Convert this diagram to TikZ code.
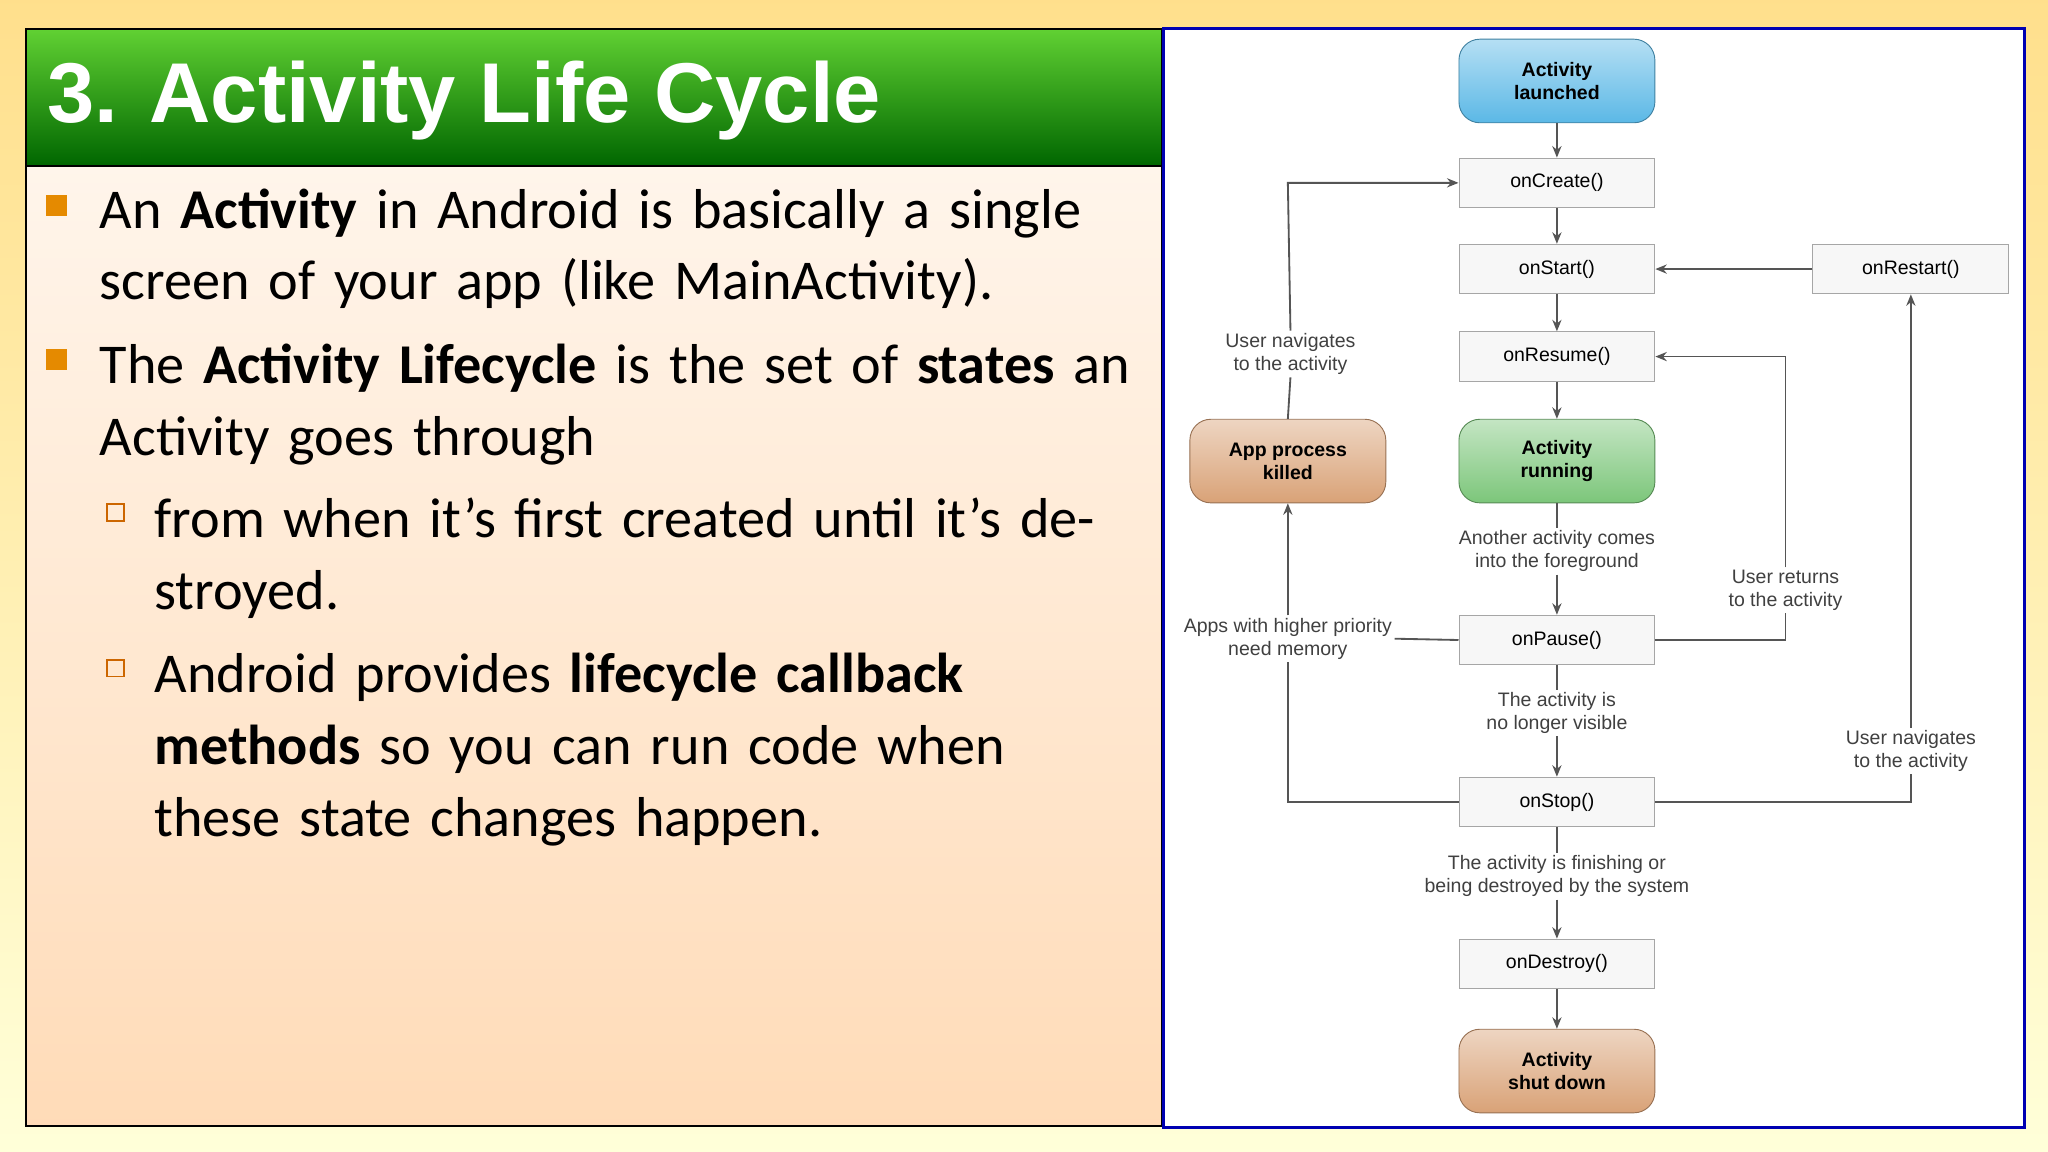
\documentclass[tikz,border=0pt]{standalone}
\usepackage{fontspec}
\setmainfont{Carlito}
\newfontfamily\arialf{Liberation Sans}
\usetikzlibrary{arrows.meta,positioning}
\definecolor{ln}{HTML}{555555}
\tikzset{
 cb/.style={draw=gray!70,fill=gray!6,minimum width=150*0.02cm,minimum height=38*0.02cm,font=\arialf\fontsize{8.5}{10}\selectfont},
 st/.style={draw=#1!70!black,rounded corners=16*0.02cm,minimum width=150*0.02cm,minimum height=64*0.02cm,font=\arialf\bfseries\fontsize{8.5}{10}\selectfont,align=center,top color=#1!45!white,bottom color=#1},
 lb/.style={font=\arialf\fontsize{8.5}{10}\selectfont,align=center,text=black!75,inner sep=1pt},
 ar/.style={draw=ln,line width=0.8pt,-{Stealth[length=5pt,width=4pt]}},
 pl/.style={draw=ln,line width=0.8pt},
 bt/.style={anchor=north west,text width=790*0.02cm,align=left,inner sep=0pt,font=\fontsize{24.5}{31.2}\selectfont}
}
\definecolor{sblue}{HTML}{5BB8E6}
\definecolor{sgreen}{HTML}{7CC67A}
\definecolor{sorange}{HTML}{D9A277}
\begin{document}
\begin{tikzpicture}[x=0.02cm,y=-0.02cm]
\shade[top color=yellow!45!orange!45!white,bottom color=yellow!15!white] (0,0) rectangle (1568,882);
\useasboundingbox (0,0) rectangle (1568,882);
% left panel
\shade[top color=orange!5!white,bottom color=orange!28!white,draw=black,line width=1pt] (20,22) rectangle (890,862);
\shade[top color=green!55!olive!80!white,bottom color=green!40!black,draw=black,line width=1pt] (20,22) rectangle (890,127);
\node[anchor=west,text=white,font=\arialf\bfseries\fontsize{37}{40}\selectfont] (title) at (30,77) {3. Activity Life Cycle};
\fill[orange!80!yellow!90!black] (35,149) rectangle (51,165);
\fill[orange!80!yellow!90!black] (35,267) rectangle (51,283);
\node[bt] (b1) at (76,144) {An \textbf{Activity} in Android is basically a single screen of your app (like MainActivity).};
\node[bt] (b2) at (76,263) {The \textbf{Activity Lifecycle} is the set of \textbf{states} an Activity goes through};
\node[bt,text width=740*0.02cm] (b3) at (118,381) {from when it’s first created until it’s destroyed.};
\node[bt,text width=740*0.02cm] (b4) at (118,500) {Android provides \textbf{lifecycle callback methods} so you can run code when these state changes happen.};
\draw[orange!80!black,line width=0.8pt] (82,386) rectangle (95,399);
\draw[orange!80!black,line width=0.8pt] (82,505) rectangle (95,518);
% right panel
\draw[fill=white,draw=blue!70!black,line width=1.2pt] (891,22) rectangle (1550,863);
\node[st=sblue] (la) at (1192,62) {Activity\\launched};
\node[cb] (cr) at (1192,140) {onCreate()};
\node[cb] (sa) at (1192,206) {onStart()};
\node[cb] (re) at (1192,273) {onResume()};
\node[st=sgreen] (ru) at (1192,353) {Activity\\running};
\node[cb] (pa) at (1192,490) {onPause()};
\node[cb] (so) at (1192,614) {onStop()};
\node[cb] (de) at (1192,738) {onDestroy()};
\node[st=sorange] (sd) at (1192,820) {Activity\\shut down};
\node[cb] (rs) at (1463,206) {onRestart()};
\node[st=sorange] (ki) at (986,353) {App process\\killed};
\node[lb] (l1) at (1192,422) {Another activity comes\\into the foreground};
\node[lb] (l2) at (1192,546) {The activity is\\no longer visible};
\node[lb] (l3) at (1192,671) {The activity is finishing or\\being destroyed by the system};
\node[lb] (l4) at (1463,575) {User navigates\\to the activity};
\node[lb] (l5) at (1367,452) {User returns\\to the activity};
\node[lb] (l6) at (986,489) {Apps with higher priority\\need memory};
\node[lb] (l7) at (988,271) {User navigates\\to the activity};
\draw[ar] (la) -- (cr);
\draw[ar] (cr) -- (sa);
\draw[ar] (sa) -- (re);
\draw[ar] (re) -- (ru);
\draw[pl] (ru) -- (l1);
\draw[ar] (l1) -- (pa);
\draw[pl] (pa) -- (l2);
\draw[ar] (l2) -- (so);
\draw[pl] (so) -- (l3);
\draw[ar] (l3) -- (de);
\draw[ar] (de) -- (sd);
\draw[ar] (rs) -- (sa);
\coordinate (c1) at (1463,614);
\draw[pl] (so.east) -- (c1) -- (l4.south);
\draw[ar] (l4.north) -- (rs.south);
\coordinate (c2) at (1367,490);
\draw[pl] (pa.east) -- (c2) -- (l5.south);
\coordinate (c3) at (1367,273);
\draw[ar] (l5.north) -- (c3) -- (re.east);
\draw[pl] (pa.west) -- (l6.east);
\draw[ar] (l6.north) -- (ki.south);
\coordinate (c4) at (986,614);
\draw[pl] (so.west) -- (c4) -- (l6.south);
\draw[pl] (ki.north) -- (l7.south);
\coordinate (c5) at (986,140);
\draw[ar] (l7.north) -- (c5) -- (cr.west);
\end{tikzpicture}
\end{document}
